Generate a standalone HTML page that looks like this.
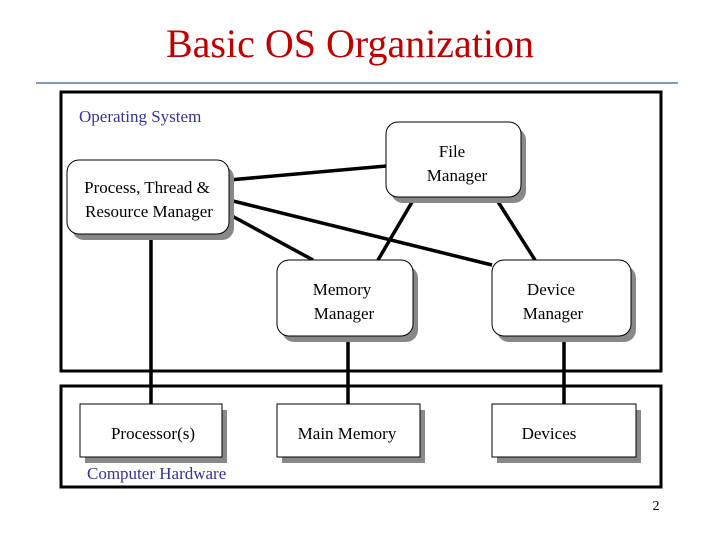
<!DOCTYPE html>
<html><head><style>body{margin:0;background:#fff}svg{display:block}</style></head><body>
<svg width="720" height="540" viewBox="0 0 720 540" xmlns="http://www.w3.org/2000/svg" font-family="Liberation Serif, serif">
<rect width="720" height="540" fill="#fff"/>
<text x="350" y="57" font-size="40" fill="#c00000" text-anchor="middle">Basic OS Organization</text>
<line x1="36" y1="83" x2="678" y2="83" stroke="#7f9cb8" stroke-width="2"/>
<rect x="61" y="92" width="600" height="279" fill="none" stroke="#000" stroke-width="3"/>
<rect x="61" y="386" width="600" height="101" fill="none" stroke="#000" stroke-width="3"/>
<text x="79" y="122" font-size="17" fill="#333399">Operating System</text>
<text x="87" y="479" font-size="17" fill="#333399">Computer Hardware</text>
<text x="656" y="510" font-size="14" text-anchor="middle">2</text>
<g stroke="#000" stroke-width="3.5">
<line x1="229" y1="180" x2="386" y2="166"/>
<line x1="229" y1="200" x2="492" y2="265"/>
<line x1="232" y1="216" x2="313" y2="260"/>
<line x1="415" y1="197" x2="378" y2="260"/>
<line x1="495" y1="197" x2="535" y2="260"/>
<line x1="151" y1="234" x2="151" y2="404"/>
<line x1="348" y1="336" x2="348" y2="404"/>
<line x1="564" y1="336" x2="564" y2="404"/>
</g>
<g fill="#888">
<rect x="72" y="166" width="162" height="74" rx="12"/>
<rect x="391" y="128" width="135" height="75" rx="12"/>
<rect x="282" y="266" width="136" height="76" rx="12"/>
<rect x="497" y="266" width="139" height="76" rx="12"/>
<rect x="85" y="410" width="142" height="53"/>
<rect x="282" y="410" width="143" height="53"/>
<rect x="497" y="410" width="144" height="53"/>
</g>
<g fill="#fff" stroke="#000" stroke-width="1">
<rect x="67" y="160" width="162" height="74" rx="12"/>
<rect x="386" y="122" width="135" height="75" rx="12"/>
<rect x="277" y="260" width="136" height="76" rx="12"/>
<rect x="492" y="260" width="139" height="76" rx="12"/>
<rect x="80" y="404" width="142" height="53"/>
<rect x="277" y="404" width="143" height="53"/>
<rect x="492" y="404" width="144" height="53"/>
</g>
<g font-size="17" fill="#000" text-anchor="middle">
<text x="147" y="193">Process, Thread &amp;</text>
<text x="149" y="217">Resource Manager</text>
<text x="452" y="157">File</text>
<text x="457" y="181">Manager</text>
<text x="342" y="295">Memory</text>
<text x="344" y="319">Manager</text>
<text x="551" y="295">Device</text>
<text x="553" y="319">Manager</text>
<text x="153" y="439">Processor(s)</text>
<text x="347" y="439">Main Memory</text>
<text x="549" y="439">Devices</text>
</g>
</svg>
</body></html>
